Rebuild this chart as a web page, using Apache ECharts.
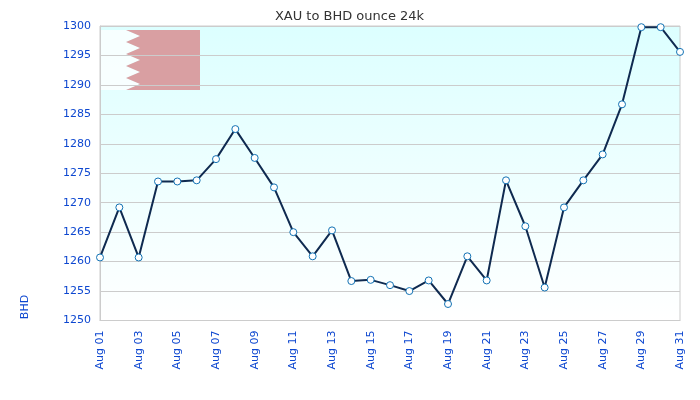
<!DOCTYPE html>
<html><head><meta charset="utf-8">
<style>html,body{margin:0;padding:0;background:#fff}#c{width:700px;height:400px}</style>
<script src="https://cdn.jsdelivr.net/npm/echarts@6/dist/echarts.min.js"></script>
</head><body><div id="c"></div>
<script>
var titleText = 'XAU to BHD ounce 24k';
var unitName = 'BHD';
var categories = ['Aug 01','Aug 02','Aug 03','Aug 04','Aug 05','Aug 06','Aug 07','Aug 08','Aug 09','Aug 10','Aug 11','Aug 12','Aug 13','Aug 14','Aug 15','Aug 16','Aug 17','Aug 18','Aug 19','Aug 20','Aug 21','Aug 22','Aug 23','Aug 24','Aug 25','Aug 26','Aug 27','Aug 28','Aug 29','Aug 30','Aug 31'];
var prices = [1260.7,1269.2,1260.7,1273.6,1273.6,1273.8,1277.4,1282.5,1277.6,1272.6,1265,1260.9,1265.3,1256.7,1256.9,1256,1255,1256.8,1252.8,1260.9,1256.8,1273.8,1266,1255.6,1269.2,1273.8,1278.2,1286.7,1299.8,1299.8,1295.6];
var blue = '#0d47d0';
var chart = echarts.init(document.getElementById('c'), null, {renderer:'canvas'});
chart.setOption({
  animation:false,
  textStyle:{fontFamily:'DejaVu Sans'},
  title:{text:titleText,left:344.5,top:5,textAlign:'center',textStyle:{fontSize:13,fontWeight:'normal',color:'#333',fontFamily:'DejaVu Sans'}},
  grid:{left:100,right:20,top:26,bottom:79.5,show:true,borderColor:'#ccc',borderWidth:1,
    backgroundColor:new echarts.graphic.LinearGradient(0,0,0,1,[{offset:0,color:'#dcffff'},{offset:1,color:'#ffffff'}])},
  graphic:[
    {type:'polygon',z:0,zlevel:0,silent:true,shape:{points:[[101,30],[126,30],[140,36],[126,42],[140,48],[126,54],[140,60],[126,66],[140,72],[126,78],[140,84],[126,90],[101,90]]},style:{fill:'rgba(255,255,255,0.75)'}},
    {type:'polygon',z:0,zlevel:0,silent:true,shape:{points:[[126,30],[200,30],[200,90],[126,90],[140,84],[126,78],[140,72],[126,66],[140,60],[126,54],[140,48],[126,42],[140,36]]},style:{fill:'#d99fa2'}},
    {type:'text',rotation:Math.PI/2,x:25.5,y:307,silent:true,style:{text:unitName,fill:blue,font:'11px "DejaVu Sans"',align:'center',verticalAlign:'middle'}}
  ],
  xAxis:{type:'category',data:categories,boundaryGap:false,
    axisLine:{show:true,lineStyle:{color:'#ccc'}},axisTick:{show:false},splitLine:{show:false},
    axisLabel:{interval:1,rotate:90,color:blue,fontSize:11,margin:10,fontFamily:'DejaVu Sans',showMaxLabel:true,showMinLabel:true}},
  yAxis:{type:'value',min:1250,max:1300,interval:5,
    axisLine:{show:true,lineStyle:{color:'#ccc'}},axisTick:{show:false},
    splitLine:{show:true,lineStyle:{color:'#ccc',width:1}},
    axisLabel:{color:blue,fontSize:11,margin:9,fontFamily:'DejaVu Sans',formatter:function(v){return String(v);}}},
  series:[{type:'line',data:prices,z:5,smooth:false,symbol:'circle',symbolSize:7,showAllSymbol:true,clip:false,
    lineStyle:{color:'#0f2a50',width:2},
    itemStyle:{color:'#ffffff',borderColor:'#1272b4',borderWidth:1}}]
});
</script></body></html>
